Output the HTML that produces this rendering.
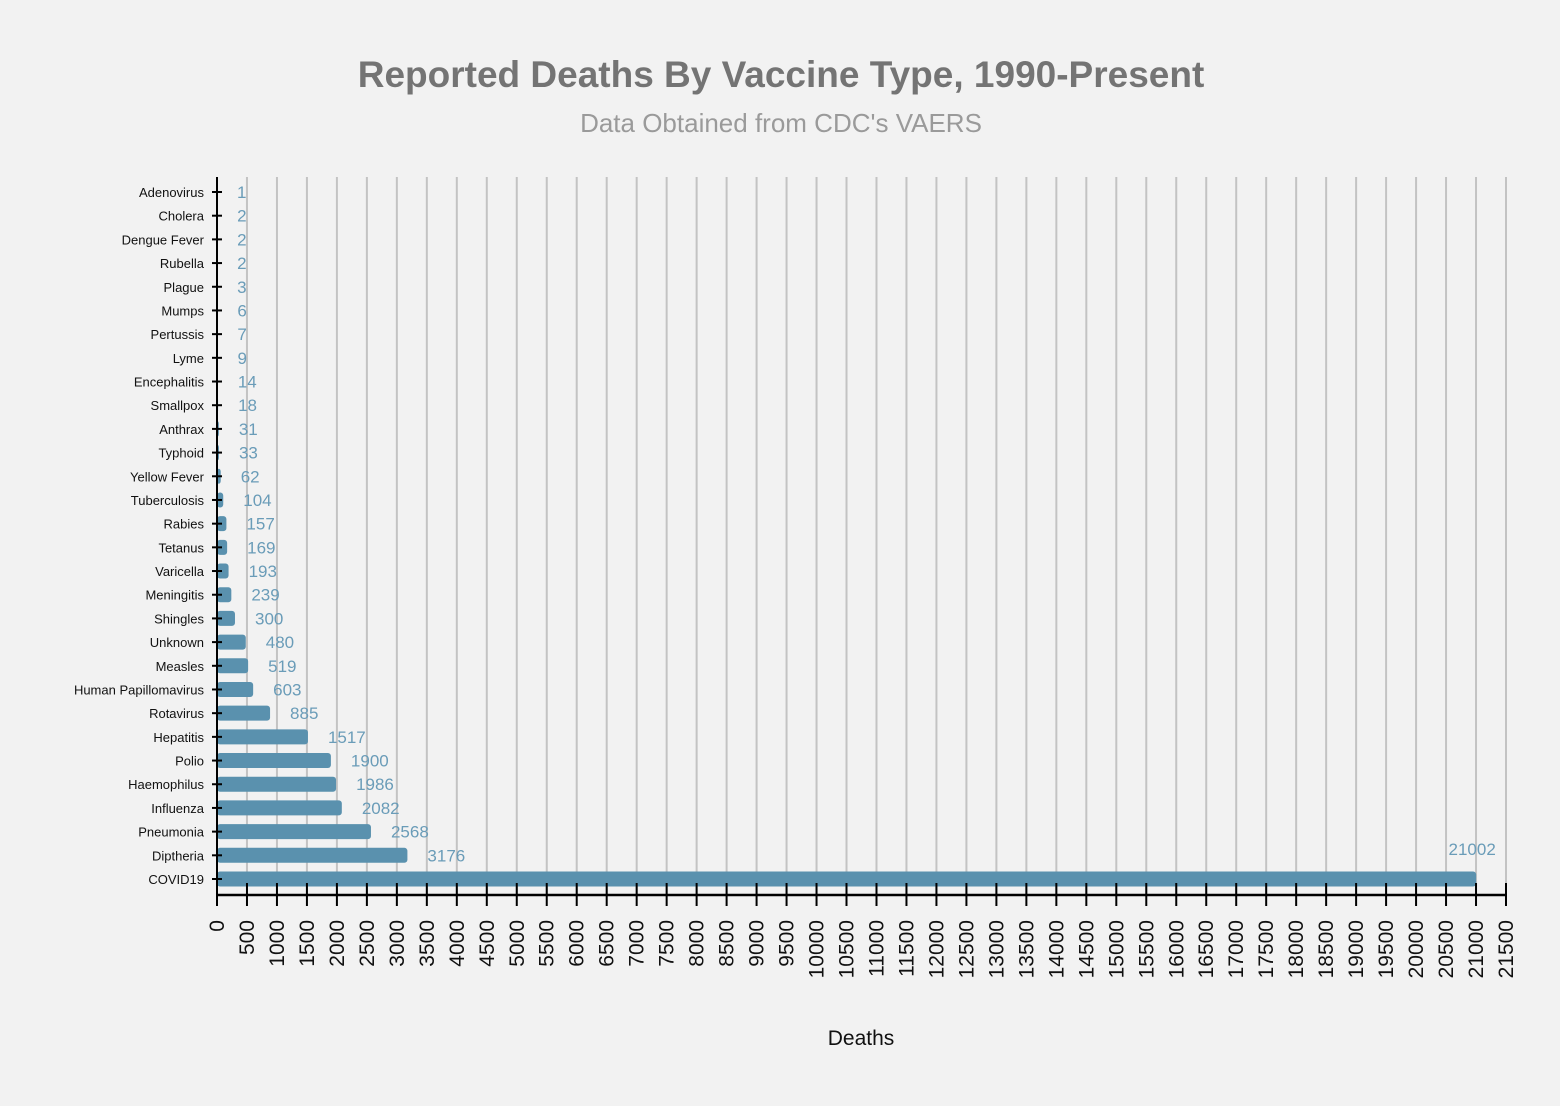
<!DOCTYPE html>
<html><head><meta charset="utf-8"><style>
body{margin:0;background:#f2f2f2;font-family:"Liberation Sans",Arial,sans-serif}
</style></head><body>
<svg id="chart" width="1560" height="1106" xmlns="http://www.w3.org/2000/svg" style="display:block">
<rect width="1560" height="1106" fill="#f2f2f2"/>
<text x="781" y="87" text-anchor="middle" font-size="37" font-weight="bold" fill="#747474">Reported Deaths By Vaccine Type, 1990-Present</text>
<text x="781" y="132" text-anchor="middle" font-size="26" fill="#9a9a9a">Data Obtained from CDC's VAERS</text>
<text x="861" y="1045" text-anchor="middle" font-size="21" fill="#111">Deaths</text>
<g id="grid"></g><g id="bars"></g><g id="axes"></g>
</svg>
<script>
const categories=["Adenovirus","Cholera","Dengue Fever","Rubella","Plague","Mumps","Pertussis","Lyme","Encephalitis","Smallpox","Anthrax","Typhoid","Yellow Fever","Tuberculosis","Rabies","Tetanus","Varicella","Meningitis","Shingles","Unknown","Measles","Human Papillomavirus","Rotavirus","Hepatitis","Polio","Haemophilus","Influenza","Pneumonia","Diptheria","COVID19"];
const values=[1,2,2,2,3,6,7,9,14,18,31,33,62,104,157,169,193,239,300,480,519,603,885,1517,1900,1986,2082,2568,3176,21002];
const xTicks=[];for(let t=0;t<=21500;t+=500)xTicks.push(t);
const NS="http://www.w3.org/2000/svg";
const x0=217,x1=1506,xMax=21500,yTop=177,yAxis=895,yFirst=192,yLast=879;
const xs=v=>x0+(x1-x0)*v/xMax;
const ys=i=>yFirst+(yLast-yFirst)*i/(categories.length-1);
function mk(tag,attrs,parent){const e=document.createElementNS(NS,tag);for(const k in attrs)e.setAttribute(k,attrs[k]);parent.appendChild(e);return e;}
const grid=document.getElementById('grid'),bars=document.getElementById('bars'),axes=document.getElementById('axes');
xTicks.forEach(t=>{if(t===0)return;
 const g=mk('line',{x1:xs(t),x2:xs(t),y1:yTop,y2:yAxis,stroke:'#c3c3c3','stroke-width':2},grid);
 
 });
categories.forEach((c,i)=>{
 const y=ys(i),w=xs(values[i])-x0;
 const r=mk('rect',{x:x0,y:y-7.5,width:Math.max(w,0.5),height:15,rx:3,fill:'#5a91ae'},bars);
 
 
 const last=i===categories.length-1;
 const lt=mk('text',{x:last?xs(values[i])-4:xs(values[i])+20,y:last?y-24:y+6,'font-size':17,fill:'#6a9cb8','text-anchor':last?'middle':'start'},bars);
 lt.textContent=values[i];
 
 
 const tk=mk('line',{x1:x0-5,x2:x0+5,y1:y,y2:y,stroke:'#000','stroke-width':2},axes);
 
 
 const tl=mk('text',{x:204,y:y+5,'font-size':13,fill:'#111','text-anchor':'end'},axes);
 tl.textContent=c;
 
 
});
const ya=mk('line',{x1:x0,x2:x0,y1:yTop,y2:yAxis+1,stroke:'#000','stroke-width':2},axes);


const xa=mk('line',{x1:x0-1,x2:x1+1,y1:yAxis,y2:yAxis,stroke:'#000','stroke-width':2.5},axes);


xTicks.forEach(t=>{
 const tk=mk('line',{x1:xs(t),x2:xs(t),y1:yAxis-12,y2:yAxis+11,stroke:'#000','stroke-width':2},axes);
 
 
 const tl=mk('text',{x:0,y:0,'font-size':21,fill:'#111','text-anchor':'end',transform:`translate(${xs(t)+7},${yAxis+25}) rotate(-90)`},axes);
 tl.textContent=t;
 
 
});
</script>
</body></html>
